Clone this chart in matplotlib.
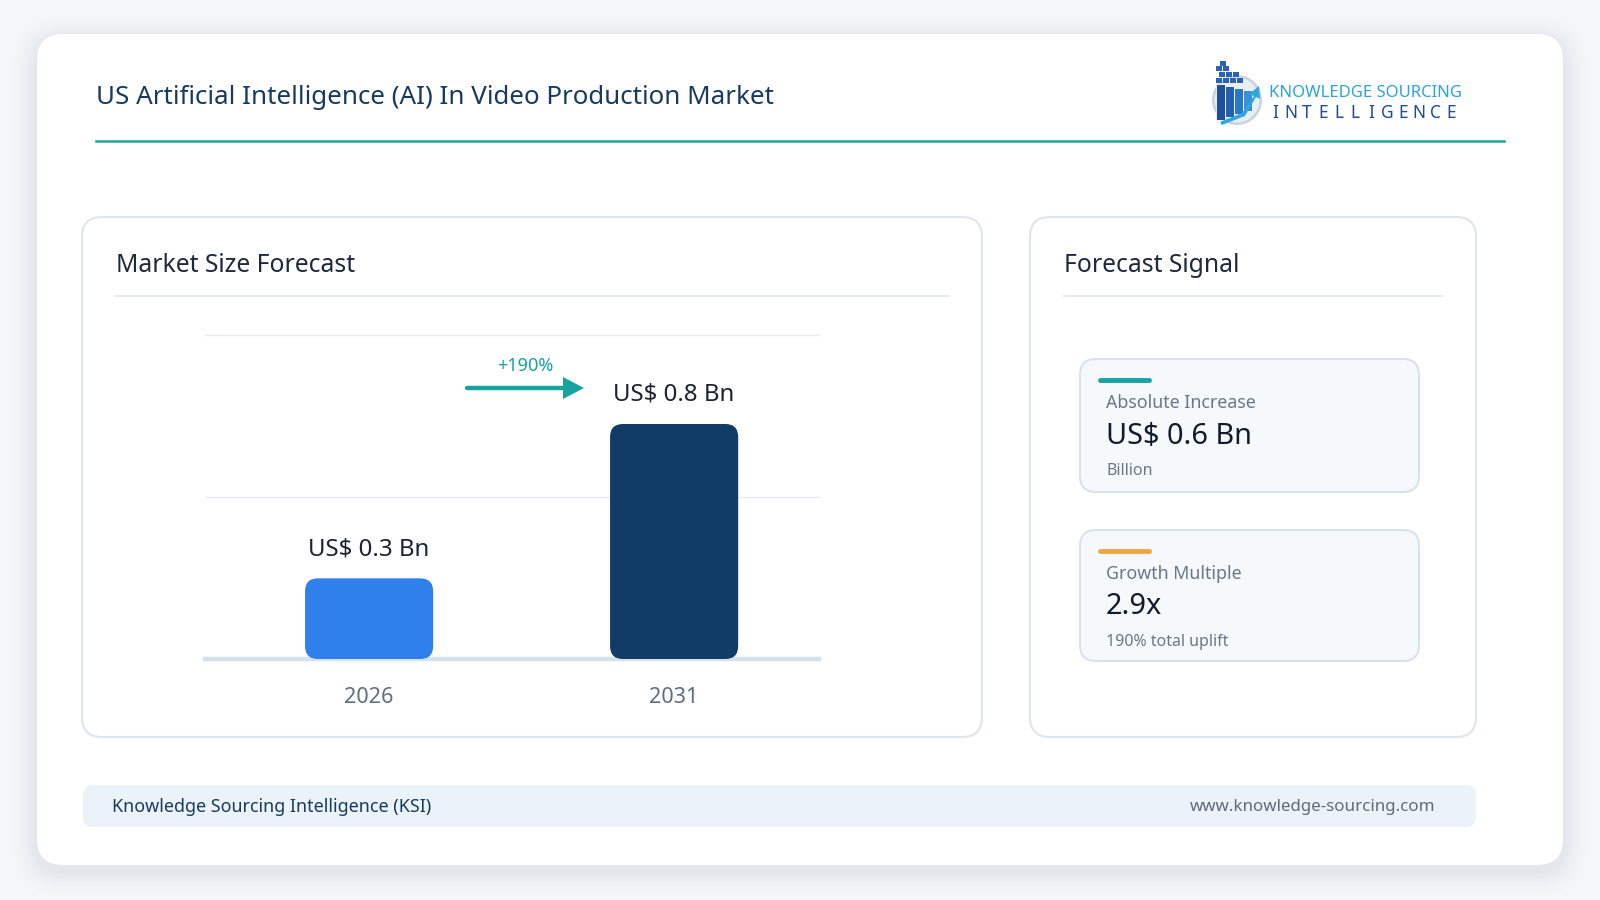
import matplotlib
matplotlib.use("Agg")
import matplotlib.pyplot as plt
from matplotlib.patches import FancyBboxPatch, Polygon, Circle, Rectangle
from matplotlib.lines import Line2D

plt.rcParams['font.family'] = ['Noto Sans', 'DejaVu Sans']

# ---------------- data ----------------
title = "US Artificial Intelligence (AI) In Video Production Market"
years = ["2026", "2031"]
values = [0.29, 0.845]           # US$ Bn
value_labels = ["US$ 0.3 Bn", "US$ 0.8 Bn"]
bar_colors = ["#2f80ea", "#113c66"]
growth_label = "+190%"
abs_increase = "US$ 0.6 Bn"
abs_unit = "Billion"
multiple = "2.9x"
uplift = "190% total uplift"
footer_left = "Knowledge Sourcing Intelligence (KSI)"
footer_right = "www.knowledge-sourcing.com"

W, H = 1600, 900
fig = plt.figure(figsize=(16, 9), dpi=100)
fig.patch.set_facecolor("#f4f7fa")

ax0 = fig.add_axes([0, 0, 1, 1])
ax0.set_xlim(0, W)
ax0.set_ylim(H, 0)
ax0.axis("off")
ax0.set_zorder(0)


def rbox(x0, y0, x1, y1, r, fc, ec="none", lw=0, z=1, alpha=1.0):
    p = FancyBboxPatch((x0 + r, y0 + r), (x1 - x0) - 2 * r, (y1 - y0) - 2 * r,
                       boxstyle=f"round,pad={r},rounding_size={r}",
                       fc=fc, ec=ec, lw=lw, zorder=z, alpha=alpha)
    ax0.add_patch(p)
    return p


# outer card shadow + card
for i, a in enumerate([0.018, 0.018, 0.016, 0.014, 0.012, 0.01]):
    g = 3 + i * 4
    rbox(37 - g, 34 - g + 6, 1563 + g, 865 + g + 6, 26 + g, "#5a6b80", z=0.5, alpha=a)
rbox(37, 34, 1563, 865, 26, "white", z=1)

# title
ax0.text(96, 97, title, fontsize=18.7, color="#173a5e", va="center", ha="left", zorder=3)
ax0.add_line(Line2D([96, 1504], [141, 141], color="#1aa3a3", lw=1.8, zorder=3))

# logo
ax0.add_patch(Circle((1237, 100), 25, fc="#c9d3de", ec="none", zorder=3))
ax0.add_patch(Circle((1237, 100), 22.5, fc="#e9eef3", ec="none", zorder=3))
for k, (bx, c) in enumerate([(1216, "#1d4f9c"), (1225, "#2461b3"), (1234, "#2b78c9"), (1243, "#3a8fd8")]):
    ax0.add_patch(Rectangle((bx, 84 + k * 2), 8.5, 36 - k * 5, fc=c, ec="white", lw=0.6, zorder=4))
for (sx, sy) in [(1216, 78), (1223, 78), (1230, 78), (1237, 78), (1219, 72), (1226, 72), (1233, 72),
                 (1216, 66), (1223, 66), (1220, 61)]:
    ax0.add_patch(Rectangle((sx, sy), 5.5, 5, fc="#2a63b5", ec="none", zorder=4))
ax0.add_patch(Polygon([[1220, 122], [1242, 113], [1254, 96], [1249, 94], [1259, 86], [1260, 99],
                       [1256, 97], [1245, 116], [1222, 125]], closed=True, fc="#2ea6de", ec="none", zorder=5))
ax0.text(1269, 93, "KNOWLEDGE SOURCING", fontsize=12, fontweight="semibold", color="#2ea3da",
         va="center", ha="left", zorder=3)
for i, ch in enumerate("INTELLIGENCE"):
    ax0.text(1275 + i * 16.0, 112.5, ch, fontsize=12.5, color="#1f4c96", va="center", ha="center", zorder=3)

# left panel
rbox(82, 217, 982, 737, 20, "white", ec="#dde5ee", lw=1.5, z=2)
ax0.text(116, 265, "Market Size Forecast", fontsize=17.8, color="#1e293b", va="center", ha="left", zorder=3)
ax0.add_line(Line2D([116, 948], [296, 296], color="#dfe5ec", lw=1.2, zorder=3))

# right panel
rbox(1030, 217, 1476, 737, 20, "white", ec="#dde5ee", lw=1.5, z=2)
ax0.text(1064, 265, "Forecast Signal", fontsize=17.8, color="#1e293b", va="center", ha="left", zorder=3)
ax0.add_line(Line2D([1064, 1442], [296, 296], color="#dfe5ec", lw=1.2, zorder=3))

# cards
cards = [
    (359, 492, "#17a39f", "Absolute Increase", abs_increase, abs_unit),
    (530, 661, "#f0a444", "Growth Multiple", multiple, uplift),
]
for (y0, y1, acc, lab, val, sub) in cards:
    rbox(1080, y0, 1419, y1, 16, "#f5f9fc", ec="#d9e2ec", lw=1.5, z=3)
    ax0.add_line(Line2D([1100, 1149], [y0 + 21, y0 + 21], color=acc, lw=3.5,
                        solid_capstyle="round", zorder=4))
    ax0.text(1106, y0 + 44, lab, fontsize=12.8, color="#6b7789", va="center", ha="left", zorder=4)
    ax0.text(1106, y0 + 77, val, fontsize=20.8, color="#111a2e", va="center", ha="left", zorder=4)
    ax0.text(1106, y0 + 112, sub, fontsize=11.5, color="#6b7789", va="center", ha="left", zorder=4)

# footer
rbox(83, 785, 1476, 827, 10, "#ebf3fa", z=2)
ax0.text(112, 807, footer_left, fontsize=12.9, color="#173a5e", va="center", ha="left", zorder=3)
ax0.text(1435, 807, footer_right, fontsize=12.2, color="#5f6b7a", va="center", ha="right", zorder=3)

# ---------------- bar chart ----------------
px_l, px_r, px_top, px_base = 205, 819, 335, 659
ax = fig.add_axes([px_l / W, (H - px_base) / H, (px_r - px_l) / W, (px_base - px_top) / H])
ax.set_zorder(2)
ax.patch.set_alpha(0)
ymax = 1.165
xlo, xhi = -0.538, 1.475
ax.set_xlim(xlo, xhi)
ax.set_ylim(0, ymax)
for s in ax.spines.values():
    s.set_visible(False)
ax.set_xticks([])
ax.set_yticks([])

for gy in [ymax / 2, ymax]:
    ax.axhline(gy, color="#e6ebf1", lw=1.0, zorder=0, clip_on=False)
ax.axhline(0, color="#d6e1ec", lw=3.2, zorder=1, clip_on=False)

bw = 0.42
xs = list(range(len(years)))
bars = ax.bar(xs, values, width=bw, color=bar_colors, zorder=2)
ax_w_px = px_r - px_l
ax_h_px = px_base - px_top
ux = (xhi - xlo) / ax_w_px
uy = ymax / ax_h_px
r_px = 13
for b, c in zip(bars, bar_colors):
    b.set_visible(False)
    x0, w, h = b.get_x(), b.get_width(), b.get_height()
    r = r_px * ux
    p = FancyBboxPatch((x0 + r, r * (uy / ux)), w - 2 * r, h - 2 * r * (uy / ux),
                       boxstyle=f"round,pad={r},rounding_size={r}",
                       mutation_aspect=uy / ux, fc=c, ec="none", zorder=3)
    ax.add_patch(p)

for x, v, lab in zip(xs, values, value_labels):
    ax.annotate(lab, (x, v), xytext=(0, 21), textcoords="offset points",
                ha="center", va="center", fontsize=17.3, color="#1b2432", zorder=4,
                annotation_clip=False)
for x, yr in zip(xs, years):
    ax.annotate(yr, (x, 0), xytext=(0, -28), textcoords="offset points",
                ha="center", va="center", fontsize=15.6, color="#5f6f82", annotation_clip=False)

# growth arrow
ax0.add_line(Line2D([467, 566], [388, 388], color="#17a39f", lw=3.2, solid_capstyle="round", zorder=3))
ax0.add_patch(Polygon([[563, 377], [584, 388], [563, 399]], closed=True, fc="#17a39f", ec="none", zorder=3))
ax0.text(525, 366, growth_label, fontsize=13, color="#17a39f", va="center", ha="center", zorder=3)

fig.savefig("out.png", dpi=100, facecolor=fig.get_facecolor())
